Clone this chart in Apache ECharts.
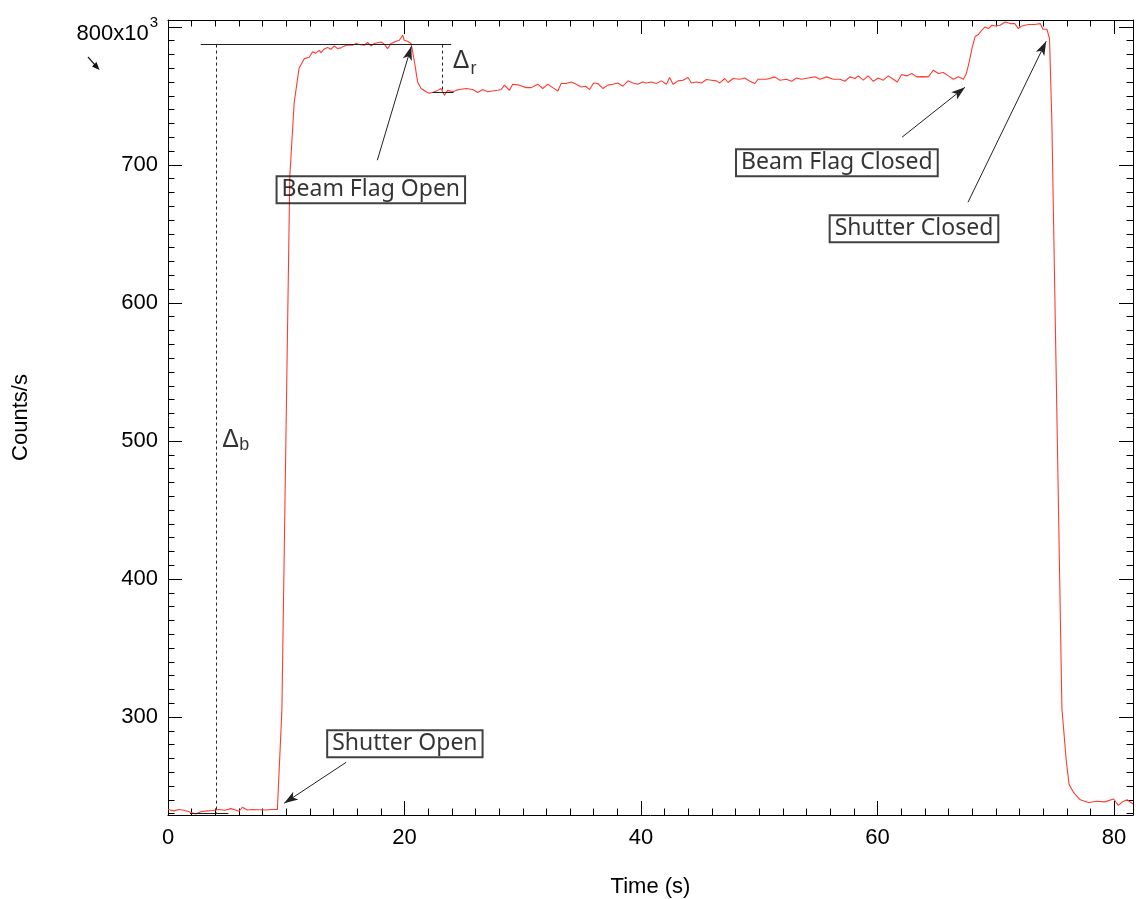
<!DOCTYPE html>
<html><head><meta charset="utf-8">
<script src="https://cdn.jsdelivr.net/npm/echarts@6/dist/echarts.min.js"></script>
<style>html,body{margin:0;padding:0;background:#fff}#c{width:1136px;height:899px}</style>
</head><body><div id="c"></div>
<script>
// ---- data ----
const times = [0.00,0.50,0.93,1.35,1.78,2.35,2.77,3.33,3.80,4.32,4.80,5.31,5.70,6.01,6.29,6.70,7.14,7.70,8.27,8.75,9.25,9.63,10.30,10.67,11.08,11.24,11.52,11.94,12.22,12.50,12.79,12.93,13.21,13.50,13.78,14.06,14.34,14.62,15.05,15.61,15.90,16.17,16.60,16.88,17.16,17.44,17.59,18.01,18.29,18.57,18.86,19.28,19.56,19.84,19.98,20.26,20.55,20.69,20.89,21.11,21.40,21.82,22.10,22.38,22.80,23.09,23.37,23.65,24.07,24.36,24.64,25.21,25.77,26.19,26.61,27.04,27.46,27.88,28.17,28.45,28.87,29.15,29.72,30.29,30.71,31.27,31.69,32.12,32.54,32.96,33.25,33.67,34.10,34.52,34.94,35.31,35.65,35.99,36.35,36.77,37.20,37.62,38.04,38.47,38.89,39.31,39.74,40.11,40.45,40.87,41.29,41.72,42.14,42.42,42.70,43.13,43.55,43.97,44.26,44.68,45.11,45.53,45.95,46.38,46.66,47.08,47.36,47.78,48.35,48.77,49.20,49.62,49.90,50.61,51.31,51.74,52.30,52.73,53.15,53.57,54.14,54.70,55.12,55.69,56.25,56.82,57.24,57.66,58.09,58.37,58.79,59.21,59.64,60.06,60.48,60.91,61.33,61.67,62.04,62.47,62.89,63.31,63.80,64.29,64.72,65.14,65.56,65.99,66.41,66.83,67.26,67.50,67.76,68.00,68.25,68.53,68.82,69.09,69.37,69.66,69.94,70.36,70.79,71.21,71.60,71.91,72.20,72.76,73.30,73.75,73.98,74.32,74.54,74.74,75.59,75.95,76.20,76.60,77.14,77.84,78.55,79.20,79.96,80.36,80.70,81.10,81.60];
const counts = [233,232,233,232.4,231.4,229.7,231.4,232,232.3,233,232.4,233.6,232.6,231.7,234.6,232.6,233,232.8,232.6,233,233,305,692,745,770,770,777,778,782,781,783,781.4,784,785,783.8,786.2,784.3,784.8,786.7,786.7,788,787.2,786.7,788.7,786.2,788,786.7,789.1,787.5,784.3,788,789.6,790.3,794,790.3,789.6,788,782,772,760,755.4,753,752,752.5,754,755.4,750.5,754,753,754,754.6,755.4,754.6,752.5,754.6,753,753.6,754.1,754.6,757.8,754.1,758.5,757.8,756,756,758.5,755.4,758.5,756,753.6,759,759,760.1,758.5,756.5,757,754.6,759.4,759,755.4,757.8,758.5,759.4,757,760.9,759.4,758.5,760.1,759.4,760.1,759,760.9,758.5,763.3,758.5,760.9,761.4,763.3,759.4,760.1,759.4,761.9,761.4,760.9,759.4,762.6,759.7,762.6,762.1,763,760.6,759,762.1,762.1,763.8,761.4,762.1,760.6,763,762.1,763,763.8,762.1,763.8,762.1,762.1,760.6,763.8,762.6,764.5,761.4,764.5,760.6,763,761.4,764.5,762.1,760.1,765.5,764.5,766.2,763.8,764,763.8,768.6,766.2,767,764.5,762.1,763.8,762.1,766,775,785,793,794.5,797.6,800,798.8,801.2,800.7,801.2,803.6,802.4,802.4,798.8,800.7,801.7,801.7,802.4,798.3,798.3,791.6,731,306,269,251,245,240,238,239,238.5,240.6,236,238.5,240,237];

const xTickLabels = [0, 20, 40, 60, 80];
const yTickLabels = [300, 400, 500, 600, 700, 800];
const xRange = [0, 81.6];
const yRange = [229, 805];

// annotation geometry (data units)
const refTopLine = [[2.77, 787.2], [23.94, 787.2]];
const deltaBDashed = [[4.04, 787.2], [4.04, 230.4]];
const baseShortLine = [[1.86, 230.4], [5.10, 230.4]];
const deltaRDashed = [[23.23, 787.2], [23.23, 752.9]];
const rShortLine = [[22.37, 752.9], [24.15, 752.9]];

const boxTexts = ['Beam Flag Open', 'Beam Flag Closed', 'Shutter Closed', 'Shutter Open'];
const boxAnchors = [[17.15, 682.0], [56.56, 701.6], [63.08, 653.8], [20.03, 280.6]];
const arrowTails = [[17.7, 703.4], [62.07, 720.1], [67.65, 673.0], [15.07, 267.2]];
const arrowTips = [[20.58, 786.0], [67.40, 756.3], [74.26, 789.6], [9.82, 237.5]];

const deltaGlyphs = ['Δ', 'Δ'];
const deltaAnchors = [[24.78, 775.1], [5.29, 500.3]];
const deltaSubs = ['r', 'b'];
const deltaSubAnchors = [[25.83, 769.3], [6.44, 497.4]];

// ---- ticks ----
const xMinor = [];
for (let v = 2; v < xRange[1]; v += 2) if (v % 20 !== 0) xMinor.push(v);
const yMinor = [];
for (let v = 230; v < yRange[1]; v += 10) if (v % 100 !== 0) yMinor.push(v);

const FONT = 'Liberation Sans, Arial, sans-serif';
const BLK = '#000';

function axis(pos, range, ticks, len, opts) {
  return Object.assign({
    type: 'value', position: pos, min: range[0], max: range[1],
    axisLine: { show: false, onZero: false, lineStyle: { color: BLK, width: 1 } },
    axisTick: { show: true, inside: true, length: len, customValues: ticks, lineStyle: { color: BLK, width: 1 } },
    axisLabel: { show: false },
    splitLine: { show: false }, minorTick: { show: false }, minorSplitLine: { show: false }
  }, opts || {});
}

const xAxes = [
  axis('bottom', xRange, xTickLabels, 14, {
    axisLine: { show: true, onZero: false, lineStyle: { color: BLK, width: 1 } },
    axisLabel: { show: true, customValues: xTickLabels, color: BLK, fontSize: 22, fontFamily: FONT, margin: 12 },
    name: 'Time (s)', nameLocation: 'middle', nameGap: 61,
    nameTextStyle: { color: BLK, fontSize: 22, fontFamily: FONT }
  }),
  axis('bottom', xRange, xMinor, 6.5),
  axis('top', xRange, xTickLabels, 14, { axisLine: { show: true, onZero: false, lineStyle: { color: BLK, width: 1 } } }),
  axis('top', xRange, xMinor, 6.5)
];
const yAxes = [
  axis('left', yRange, yTickLabels, 14, {
    axisLine: { show: true, onZero: false, lineStyle: { color: BLK, width: 1 } },
    axisLabel: {
      show: true, customValues: yTickLabels, color: BLK, fontSize: 22, fontFamily: FONT, margin: 10,
      formatter: v => v === 800 ? '{n|800x10}{p|3}' : '{m|' + v + '}',
      rich: {
        m: { fontSize: 22, fontFamily: FONT, color: BLK },
        n: { fontSize: 22, fontFamily: FONT, color: BLK, padding: [14, 0, 0, 0] },
        p: { fontSize: 15, fontFamily: FONT, color: BLK, verticalAlign: 'top', padding: [6, 0, 0, 1] }
      }
    },
    name: 'Counts/s', nameLocation: 'middle', nameGap: 136, nameRotate: 90,
    nameTextStyle: { color: BLK, fontSize: 22, fontFamily: FONT }
  }),
  axis('left', yRange, yMinor, 6.5),
  axis('right', yRange, yTickLabels, 14, { axisLine: { show: true, onZero: false, lineStyle: { color: BLK, width: 1 } } }),
  axis('right', yRange, yMinor, 6.5)
];

const annoLine = (pts, dashed) => ({ coords: pts, lineStyle: { type: dashed ? [3, 3] : 'solid' } });

const option = {
  animation: false,
  backgroundColor: '#fff',
  grid: { left: 168, right: 3, top: 20, bottom: 84, containLabel: false, outerBoundsMode: 'none' },
  xAxis: xAxes,
  yAxis: yAxes,
  series: [
    {
      type: 'line', xAxisIndex: 0, yAxisIndex: 0, showSymbol: false, symbol: 'none',
      data: times.map((t, i) => [t, counts[i]]),
      lineStyle: { color: '#ff3b30', width: 1.1 }, z: 3
    },
    {
      type: 'lines', coordinateSystem: 'cartesian2d', xAxisIndex: 0, yAxisIndex: 0,
      lineStyle: { color: '#222', width: 1, opacity: 1 },
      data: [annoLine(refTopLine), annoLine(deltaBDashed, true), annoLine(baseShortLine),
             annoLine(deltaRDashed, true), annoLine(rShortLine)], z: 4
    },
    {
      type: 'lines', coordinateSystem: 'cartesian2d', xAxisIndex: 0, yAxisIndex: 0,
      symbol: ['none', 'arrow'], symbolSize: [1, [7, 14]],
      lineStyle: { color: '#222', width: 1, opacity: 1 },
      itemStyle: { color: '#111' },
      data: arrowTails.map((a, i) => ({ coords: [a, arrowTips[i]] })), z: 5
    },
    {
      type: 'scatter', xAxisIndex: 0, yAxisIndex: 0, symbolSize: 1,
      itemStyle: { color: 'rgba(0,0,0,0)' },
      data: boxTexts.map((s, i) => ({ name: s, value: boxAnchors[i] })),
      label: {
        show: true, position: 'inside', formatter: '{b}', color: BLK,
        fontFamily: 'Noto Sans', fontSize: 23, borderColor: '#111', borderWidth: 1,
        padding: [3, 5, 1, 5], backgroundColor: 'rgba(255,255,255,0)'
      }, z: 6
    },
    {
      type: 'scatter', xAxisIndex: 0, yAxisIndex: 0, symbolSize: 1,
      itemStyle: { color: 'rgba(0,0,0,0)' },
      data: deltaGlyphs.map((s, i) => ({ name: s, value: deltaAnchors[i] })),
      label: { show: true, position: 'inside', formatter: '{b}', color: BLK, fontFamily: FONT, fontSize: 25 }, z: 6
    },
    {
      type: 'scatter', xAxisIndex: 0, yAxisIndex: 0, symbolSize: 1,
      itemStyle: { color: 'rgba(0,0,0,0)' },
      data: deltaSubs.map((s, i) => ({ name: s, value: deltaSubAnchors[i] })),
      label: { show: true, position: 'inside', formatter: '{b}', color: BLK, fontFamily: FONT, fontSize: 18 }, z: 6
    }
  ],
  graphic: [
    { type: 'line', shape: { x1: 88, y1: 57, x2: 95, y2: 65 }, style: { stroke: '#222', lineWidth: 1.2 } },
    { type: 'polygon', shape: { points: [[99.5, 70], [92, 66.5], [96.5, 62]] }, style: { fill: '#111' } }
  ]
};

const chart = echarts.init(document.getElementById('c'), null, { renderer: 'canvas' });
chart.setOption(option);
</script>
</body></html>
